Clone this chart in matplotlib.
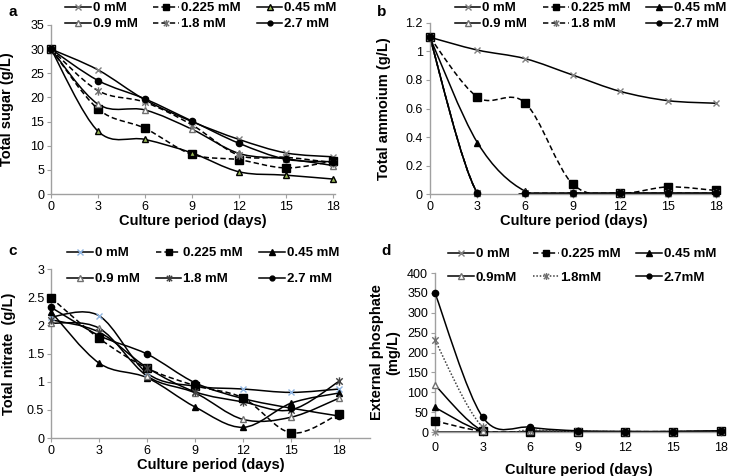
import matplotlib
matplotlib.use('Agg')
import matplotlib.pyplot as plt
from matplotlib.path import Path
from matplotlib.patches import PathPatch
from matplotlib.lines import Line2D
from matplotlib.ticker import FuncFormatter

plt.rcParams['font.family'] = ['Liberation Sans', 'DejaVu Sans']

days = [0, 3, 6, 9, 12, 15, 18]
labels_abc = ['0 mM', '0.225 mM', '0.45 mM', '0.9 mM', '1.8 mM', '2.7 mM']
labels_d = ['0 mM', '0.225 mM', '0.45 mM', '0.9mM', '1.8mM', '2.7mM']

# a - total sugar (g/L)
sugar_0 = [30, 25.7, 19.5, 15.0, 11.3, 8.5, 7.7]
sugar_0225 = [30, 17.6, 13.6, 8.2, 7.1, 5.4, 6.8]
sugar_045 = [30, 13.0, 11.3, 8.5, 4.6, 3.9, 3.1]
sugar_09 = [30, 18.6, 17.4, 13.4, 8.4, 7.3, 5.9]
sugar_18 = [30, 21.4, 19.0, 14.3, 8.0, 7.6, 6.5]
sugar_27 = [30, 23.5, 19.7, 15.1, 10.5, 7.2, 6.7]

# b - total ammonium (g/L)
amm_0 = [1.1, 1.01, 0.95, 0.835, 0.72, 0.655, 0.637]
amm_0225 = [1.1, 0.68, 0.64, 0.07, 0.005, 0.05, 0.025]
amm_045 = [1.1, 0.36, 0.02, 0.005, 0.005, 0.005, 0.005]
amm_09 = [1.1, 0.005, 0.005, 0.005, 0.005, 0.005, 0.005]
amm_18 = [1.1, 0.005, 0.005, 0.005, 0.005, 0.005, 0.005]
amm_27 = [1.1, 0.005, 0.005, 0.005, 0.005, 0.005, 0.005]

# c - total nitrate (g/L)
nit_0 = [2.15, 2.17, 1.15, 0.92, 0.87, 0.81, 0.87]
nit_0225 = [2.49, 1.77, 1.24, 0.93, 0.71, 0.09, 0.43]
nit_045 = [2.24, 1.33, 1.07, 0.55, 0.19, 0.62, 0.80]
nit_09 = [2.04, 1.95, 1.10, 0.80, 0.33, 0.37, 0.71]
nit_18 = [2.10, 1.88, 1.25, 0.82, 0.64, 0.50, 1.01]
nit_27 = [2.32, 1.82, 1.49, 0.98, 0.70, 0.53, 0.39]

# d - external phosphate (mg/L)
pho_0 = [0, 0, 0, 0, 0, 0, 0]
pho_0225 = [28, 2, 1, 1, 1, 1, 2]
pho_045 = [62, 2, 1, 1, 1, 1, 2]
pho_09 = [118, 3, 2, 1, 1, 1, 2]
pho_18 = [231, 13, 5, 2, 1, 1, 3]
pho_27 = [350, 38, 12, 3, 1, 1, 3]

star = Path([(-1, -1), (1, 1), (-1, 1), (1, -1), (0, -1.3), (0, 1.3)],
            [Path.MOVETO, Path.LINETO, Path.MOVETO, Path.LINETO, Path.MOVETO, Path.LINETO])

DASH = (0, (3.5, 2))
DOT = (0, (1, 1.2))


def series_styles(panel):
    # (linestyle, marker, facecolor, edgecolor, size)
    s = [
        ['-', 'x', 'none', '#808080', 5],
        [DASH, 's', 'black', 'black', 5.5],
        ['-', '^', 'black', 'black', 5],
        ['-', '^', 'white', '#707070', 5],
        [DASH, star, 'none', '#707070', 6],
        ['-', 'o', 'black', 'black', 4.5],
    ]
    if panel == 'a':
        s[2][2] = '#9bbb59'
    if panel == 'c':
        s[0][3] = '#8fb4e0'
        s[4][0] = '-'
        s[4][3] = '#404040'
    if panel == 'd':
        s[4][0] = DOT
    return s


def smooth(x, y):
    # bezier curve through the points, excel "smoothed line" style
    n = len(x)
    verts = [(x[0], y[0])]
    codes = [Path.MOVETO]
    for i in range(n - 1):
        a, b = max(i - 1, 0), min(i + 2, n - 1)
        c1 = (x[i] + (x[i + 1] - x[a]) / 6, y[i] + (y[i + 1] - y[a]) / 6)
        c2 = (x[i + 1] - (x[b] - x[i]) / 6, y[i + 1] - (y[b] - y[i]) / 6)
        verts += [c1, c2, (x[i + 1], y[i + 1])]
        codes += [Path.CURVE4] * 3
    return Path(verts, codes)


def draw_panel(fig, rect, data, labels, panel, ylim, yticks, xmax, ylabel,
               leg_anchor, leg_space, ylabel_x):
    ax = fig.add_axes(rect)
    styles = series_styles(panel)
    handles = []
    for y, (ls, mk, fc, ec, ms) in zip(data, styles):
        lc = '#404040' if ls == DOT else 'black'
        ax.add_patch(PathPatch(smooth(days, y), facecolor='none', edgecolor=lc,
                               lw=1.1, linestyle=ls, zorder=2))
        ax.plot(days, y, linestyle='none', marker=mk, mfc=fc, mec=ec, ms=ms,
                mew=1.0, zorder=3, clip_on=False)
        handles.append(Line2D([], [], color=lc, lw=1.1, linestyle=ls, marker=mk,
                              mfc=fc, mec=ec, ms=ms - 1, mew=1.0))
    ax.set_xlim(0, xmax)
    ax.set_ylim(*ylim)
    ax.set_xticks(days)
    ax.set_yticks(yticks)
    ax.yaxis.set_major_formatter(FuncFormatter(lambda v, p: '%g' % v))
    for sp in ['top', 'right']:
        ax.spines[sp].set_visible(False)
    for sp in ['left', 'bottom']:
        ax.spines[sp].set_color('#a0a0a0')
        ax.spines[sp].set_linewidth(1.0)
    ax.tick_params(direction='out', length=3, color='#a0a0a0', labelsize=9, pad=2)
    ax.set_xlabel('Culture period (days)', fontsize=10.5, fontweight='bold', labelpad=1)
    ax.set_ylabel(ylabel, fontsize=10.5, fontweight='bold')
    ax.yaxis.set_label_coords(ylabel_x, 0.5)
    order = [0, 3, 1, 4, 2, 5]
    fig.legend([handles[i] for i in order], [labels[i] for i in order], ncol=3,
               loc='center left', bbox_to_anchor=leg_anchor,
               bbox_transform=fig.transFigure, frameon=False,
               prop=dict(weight='bold', size=9.5), handlelength=1.95,
               handletextpad=0.15, columnspacing=1.2, labelspacing=leg_space,
               borderpad=0, borderaxespad=0)
    return ax


fig = plt.figure(figsize=(7.31, 4.76), dpi=100)

axa = draw_panel(fig, [0.0698, 0.5924, 0.388, 0.3551],
                 [sugar_0, sugar_0225, sugar_045, sugar_09, sugar_18, sugar_27],
                 labels_abc, 'a', (0, 35), range(0, 36, 5), 18.1,
                 'Total sugar (g/L)', (0.089, 0.966), 0.3, -0.13)
axb = draw_panel(fig, [0.588, 0.5924, 0.393, 0.3593],
                 [amm_0, amm_0225, amm_045, amm_09, amm_18, amm_27],
                 labels_abc, 'b', (0, 1.2), [0, 0.2, 0.4, 0.6, 0.8, 1.0, 1.2], 18.1,
                 'Total ammoium (g/L)', (0.622, 0.966), 0.3, -0.135)
axc = draw_panel(fig, [0.0698, 0.0798, 0.436, 0.355],
                 [nit_0, nit_0225, nit_045, nit_09, nit_18, nit_27],
                 labels_abc, 'c', (0, 3), [0, 0.5, 1, 1.5, 2, 2.5, 3], 19.9,
                 'Total nitrate  (g/L)', (0.092, 0.441), 1.05, -0.11)
axd = draw_panel(fig, [0.595, 0.0924, 0.393, 0.334],
                 [pho_0, pho_0225, pho_045, pho_09, pho_18, pho_27],
                 labels_d, 'd', (0, 400), range(0, 401, 50), 18.1,
                 'External phosphate\n(mg/L)', (0.613, 0.441), 0.85, -0.12)
axd.xaxis.labelpad = 7
axd.tick_params(axis='x', pad=4)

for t, (x, y) in zip('abcd', [(0.012, 0.975), (0.515, 0.975), (0.012, 0.472), (0.522, 0.472)]):
    fig.text(x, y, t, fontsize=11, fontweight='bold', va='center')

fig.savefig('out.png', dpi=100)
